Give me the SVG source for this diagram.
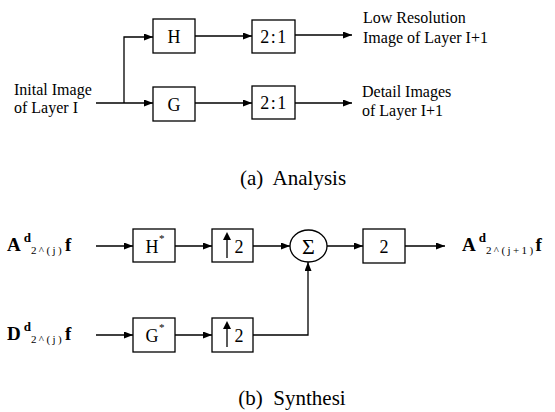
<svg xmlns="http://www.w3.org/2000/svg" width="555" height="412" viewBox="0 0 555 412">
<style>
.box{fill:#fff;stroke:#000;stroke-width:1.3}
.ln{fill:none;stroke:#000;stroke-width:1.3}
text{font-family:"Liberation Serif","Times New Roman",serif;fill:#000}
.lbl{font-size:16px}
.cap{font-size:21px}
.blk{font-size:18px}
.big{font-size:19px;font-weight:bold}
.b{font-weight:bold}
.sub{font-size:11px;letter-spacing:2.4px}
.sup{font-size:13px;font-weight:bold}
</style>
<defs>
<marker id="ah" markerWidth="9" markerHeight="7" refX="9" refY="3.5" orient="auto" markerUnits="userSpaceOnUse">
<path d="M0,0 L9,3.5 L0,7 Z" fill="#000"/>
</marker>
</defs>
<g id="connectors">
<path class="ln" d="M96,103 H153" marker-end="url(#ah)"/>
<path class="ln" d="M124,103 V37 H153" marker-end="url(#ah)"/>
<path class="ln" d="M195,36 H252" marker-end="url(#ah)"/>
<path class="ln" d="M195,103 H252" marker-end="url(#ah)"/>
<path class="ln" d="M295,35 H352" marker-end="url(#ah)"/>
<path class="ln" d="M295,103 H352" marker-end="url(#ah)"/>
<path class="ln" d="M96,246 H133" marker-end="url(#ah)"/>
<path class="ln" d="M175,246 H212" marker-end="url(#ah)"/>
<path class="ln" d="M253,246 H290" marker-end="url(#ah)"/>
<path class="ln" d="M96,335 H133" marker-end="url(#ah)"/>
<path class="ln" d="M175,335 H212" marker-end="url(#ah)"/>
<path class="ln" d="M253,335 H308 V262" marker-end="url(#ah)"/>
<path class="ln" d="M327,246 H363" marker-end="url(#ah)"/>
<path class="ln" d="M405,246 H445" marker-end="url(#ah)"/>
</g>
<g id="input-a"><text class="lbl" x="14" y="95">Inital Image</text><text class="lbl" x="14" y="113">of Layer I</text></g>
<g id="H"><rect class="box" x="153" y="19" width="42" height="34"/><text class="blk" x="174" y="42.5" text-anchor="middle">H</text></g>
<g id="G"><rect class="box" x="153" y="87" width="42" height="34"/><text class="blk" x="174" y="110.5" text-anchor="middle">G</text></g>
<g id="D1"><rect class="box" x="252" y="20" width="43" height="33"/><text class="blk" x="274" y="43" text-anchor="middle" letter-spacing="1.5">2:1</text></g>
<g id="D2"><rect class="box" x="252" y="86" width="43" height="33"/><text class="blk" x="274" y="109" text-anchor="middle" letter-spacing="1.5">2:1</text></g>
<g id="out-low"><text class="lbl" x="363" y="23">Low Resolution</text><text class="lbl" x="363" y="43">Image of Layer I+1</text></g>
<g id="out-detail"><text class="lbl" x="362" y="97">Detail Images</text><text class="lbl" x="362" y="116">of Layer I+1</text></g>
<text class="cap" x="293" y="185" text-anchor="middle" xml:space="preserve">(a)  Analysis</text>
<g id="inA"><text x="7" y="251"><tspan class="big">A</tspan><tspan class="sup" dx="3" dy="-9">d</tspan><tspan class="sub" dy="12">2^(j)</tspan><tspan class="big" dy="-3" dx="1">f</tspan></text></g>
<g id="inD"><text x="7" y="340"><tspan class="big">D</tspan><tspan class="sup" dx="3" dy="-9">d</tspan><tspan class="sub" dy="12">2^(j)</tspan><tspan class="big" dy="-3" dx="1">f</tspan></text></g>
<g id="Hs"><rect class="box" x="133" y="229" width="42" height="33"/><text class="blk" x="152" y="252.5" text-anchor="middle">H</text><text font-size="11" x="159" y="242">*</text></g>
<g id="Gs"><rect class="box" x="133" y="318" width="42" height="34"/><text class="blk" x="152" y="341.5" text-anchor="middle">G</text><text font-size="11" x="159" y="331">*</text></g>
<g id="U1"><rect class="box" x="212" y="229" width="41" height="33"/><path class="ln" d="M227,258 V238"/><path d="M223,240 L227,232 L231,240 Z"/><text class="blk" x="239" y="252.5" text-anchor="middle">2</text></g>
<g id="U2"><rect class="box" x="212" y="318" width="41" height="34"/><path class="ln" d="M227,347 V327"/><path d="M223,329 L227,321 L231,329 Z"/><text class="blk" x="239" y="341.5" text-anchor="middle">2</text></g>
<g id="Sum"><ellipse class="box" cx="308.5" cy="246" rx="18.5" ry="16"/><text font-size="22" x="308.5" y="253.5" text-anchor="middle">Σ</text></g>
<g id="T2"><rect class="box" x="363" y="229" width="42" height="34"/><text class="blk" x="384" y="252.5" text-anchor="middle">2</text></g>
<g id="outA"><text x="462" y="251"><tspan class="big">A</tspan><tspan class="sup" dx="3" dy="-9">d</tspan><tspan class="sub" dy="12">2^(j+1)</tspan><tspan class="big" dy="-3" dx="0">f</tspan></text></g>
<text class="cap" x="292" y="405" text-anchor="middle" xml:space="preserve">(b)  Synthesi</text>
</svg>
